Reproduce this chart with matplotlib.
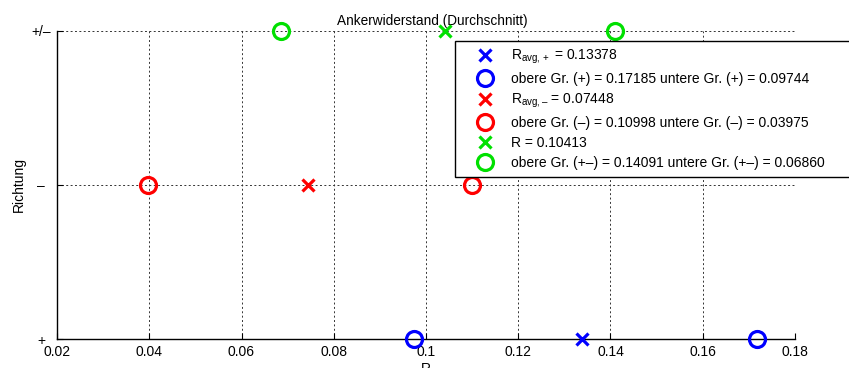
import numpy as np
import matplotlib
matplotlib.use('Agg')
import matplotlib.pyplot as plt

plt.rcParams['font.family'] = ['Liberation Sans', 'DejaVu Sans']
plt.rcParams['mathtext.fontset'] = 'custom'
plt.rcParams['mathtext.rm'] = 'Liberation Sans'
plt.rcParams['mathtext.it'] = 'Liberation Sans'

# direction levels: + (1), - (2), +/- (3)
richtung_labels = ['+', '–', '+/–']

r_avg_plus = 0.13378
grenzen_plus = [0.17185, 0.09744]
r_avg_minus = 0.07448
grenzen_minus = [0.10998, 0.03975]
r_all = 0.10413
grenzen_all = [0.14091, 0.06860]

blue = '#0000ff'
red = '#ff0000'
green = '#00e000'

fig = plt.figure(figsize=(8.49, 3.68), dpi=100)
ax = fig.add_axes([57/849, 1-339/368, (795-57)/849, (339-31)/368])

ms_x = 8
ms_o = 11.5
mew = 2.3

ax.plot([r_avg_plus], [1], 'x', color=blue, ms=ms_x, mew=mew, clip_on=False, zorder=5,
        label='$\\mathregular{R_{avg,+}}$ = %.5f' % r_avg_plus)
ax.plot(grenzen_plus, [1, 1], 'o', color=blue, ms=ms_o, mew=mew, mfc='none', clip_on=False, zorder=5,
        label='obere Gr. (+) = %.5f untere Gr. (+) = %.5f' % tuple(grenzen_plus))
ax.plot([r_avg_minus], [2], 'x', color=red, ms=ms_x, mew=mew, clip_on=False, zorder=5,
        label='$\\mathregular{R_{avg,–}}$ = %.5f' % r_avg_minus)
ax.plot(grenzen_minus, [2, 2], 'o', color=red, ms=ms_o, mew=mew, mfc='none', clip_on=False, zorder=5,
        label='obere Gr. (–) = %.5f untere Gr. (–) = %.5f' % tuple(grenzen_minus))
ax.plot([r_all], [3], 'x', color=green, ms=ms_x, mew=mew, clip_on=False, zorder=5,
        label='R = %.5f' % r_all)
ax.plot(grenzen_all, [3, 3], 'o', color=green, ms=ms_o, mew=mew, mfc='none', clip_on=False, zorder=5,
        label='obere Gr. (+–) = %.5f untere Gr. (+–) = %.5f' % tuple(grenzen_all))

ax.set_xlim(0.02, 0.18)
ax.set_ylim(1, 3)
ax.set_xticks(np.arange(0.02, 0.181, 0.02))
ax.set_xticklabels(['0.02', '0.04', '0.06', '0.08', '0.1', '0.12', '0.14', '0.16', '0.18'])
ax.set_yticks([1, 2, 3])
ax.set_yticklabels(richtung_labels)
ax.tick_params(labelsize=10, length=4, width=0.8, direction='in')
ax.tick_params(axis='x', pad=4.5)
ax.tick_params(axis='y', pad=11.5)
for lab in ax.get_yticklabels():
    lab.set_horizontalalignment('center')
ax.grid(True, color='#333333', linestyle=(0, (2, 2.5)), linewidth=0.7)
ax.spines['top'].set_visible(False)
ax.spines['right'].set_visible(False)
ax.spines['left'].set_linewidth(1.0)
ax.spines['bottom'].set_linewidth(1.0)

ax.set_title('Ankerwiderstand (Durchschnitt)', fontsize=9.8, pad=4, x=0.509)
ax.set_xlabel('R', fontsize=10, labelpad=2)
ax.set_ylabel('Richtung', fontsize=10, labelpad=4)

# legend box runs past the right edge of the figure, as in the original
leg = ax.legend(loc='upper left', bbox_to_anchor=(455/849, 1-41/368, 410/849, 0),
                bbox_transform=fig.transFigure, mode='expand',
                fontsize=10, frameon=True, fancybox=False, edgecolor='black', framealpha=1,
                borderpad=0.5, labelspacing=0.42, handletextpad=0.2, borderaxespad=0,
                handlelength=3.3)
leg.get_frame().set_linewidth(1.0)

fig.savefig('out.png', dpi=100)
